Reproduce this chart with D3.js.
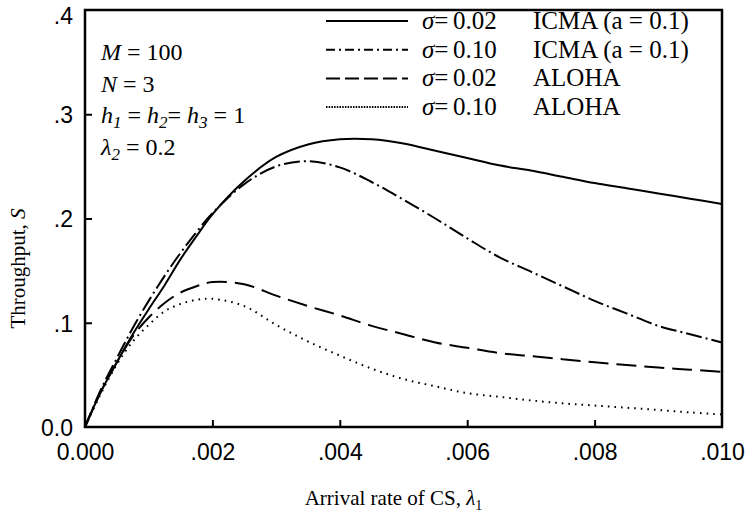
<!DOCTYPE html>
<html>
<head>
<meta charset="utf-8">
<script src="https://cdn.jsdelivr.net/npm/d3@7"></script>
<style>
  body { margin: 0; background: #fff; }
  .tick text { font-family: "Liberation Sans", Arial, sans-serif; font-size: 23px; fill: #000; }
  .serif { font-family: "Liberation Serif", "Times New Roman", serif; fill: #000; }
  .curve { fill: none; stroke: #000; stroke-width: 2; }
</style>
</head>
<body>
<div id="chart"></div>
<script>
// arrival rate of CS (lambda_1)
var lambda1 = [0, 0.00025, 0.0005, 0.00075, 0.001, 0.00125, 0.0015, 0.00175, 0.002, 0.0025,
               0.003, 0.0035, 0.004, 0.0045, 0.005, 0.0055, 0.006, 0.0065, 0.007, 0.0075,
               0.008, 0.0085, 0.009, 0.0095, 0.01];

// throughput S
var icma002 = [0, 0.034, 0.062, 0.089, 0.113, 0.136, 0.161, 0.183, 0.204, 0.236,
               0.259, 0.271, 0.276, 0.276, 0.272, 0.265, 0.258, 0.251, 0.246, 0.240,
               0.234, 0.229, 0.224, 0.219, 0.214];
var icma010 = [0, 0.036, 0.066, 0.095, 0.121, 0.145, 0.167, 0.187, 0.205, 0.233,
               0.250, 0.255, 0.249, 0.235, 0.218, 0.200, 0.181, 0.163, 0.149, 0.135,
               0.121, 0.109, 0.097, 0.089, 0.081];
var aloha002 = [0, 0.034, 0.062, 0.087, 0.105, 0.119, 0.129, 0.135, 0.139, 0.137,
                0.126, 0.116, 0.107, 0.097, 0.089, 0.081, 0.076, 0.071, 0.068, 0.065,
                0.062, 0.0595, 0.057, 0.055, 0.053];
var aloha010 = [0, 0.032, 0.060, 0.082, 0.098, 0.111, 0.118, 0.122, 0.123, 0.116,
                0.098, 0.082, 0.0685, 0.056, 0.046, 0.039, 0.0325, 0.029, 0.0255, 0.0227,
                0.0206, 0.0185, 0.0163, 0.014, 0.012];

var xTicks = [0, 0.002, 0.004, 0.006, 0.008, 0.01];
var xTickLabels = ["0.000", ".002", ".004", ".006", ".008", ".010"];
var yTicks = [0, 0.1, 0.2, 0.3, 0.4];
var yTickLabels = ["0.0", ".1", ".2", ".3", ".4"];

var sigmaLabels = ["0.02", "0.10", "0.02", "0.10"];
var schemeLabels = ["ICMA (a = 0.1)", "ICMA (a = 0.1)", "ALOHA", "ALOHA"];

var series = [
  { values: icma002, dash: null, legendDash: null },
  { values: icma010, dash: "16,4,2,4", legendDash: "9,4,2,4" },
  { values: aloha002, dash: "20,8", legendDash: "14,5" },
  { values: aloha010, dash: "1.6,5", legendDash: "1.5,1.2" }
];

var margin = {top: 10, right: 31, bottom: 90, left: 85},
    width = 753 - margin.left - margin.right,
    height = 517 - margin.top - margin.bottom;

var x = d3.scaleLinear().domain([0, 0.01]).range([0, width]);
var y = d3.scaleLinear().domain([0, 0.4]).range([height, 0]);

var svgRoot = d3.select("#chart").append("svg")
    .attr("width", 753)
    .attr("height", 517);

var svg = svgRoot.append("g")
    .attr("transform", "translate(" + margin.left + "," + margin.top + ")");

// x axis (ticks pointing inward)
var xAxis = svg.append("g")
    .attr("transform", "translate(0," + height + ")")
    .call(d3.axisBottom(x)
        .tickValues(xTicks)
        .tickSizeInner(-7)
        .tickSizeOuter(0)
        .tickPadding(17)
        .tickFormat(function(d, i) { return xTickLabels[i]; }));
xAxis.select(".domain").remove();
xAxis.selectAll(".tick line").attr("stroke", "#000").attr("stroke-width", 2)
    .filter(function(d) { return d === 0 || d === 0.01; }).remove();

// y axis
var yAxis = svg.append("g")
    .call(d3.axisLeft(y)
        .tickValues(yTicks)
        .tickSizeInner(-7)
        .tickSizeOuter(0)
        .tickPadding(12)
        .tickFormat(function(d, i) { return yTickLabels[i]; }));
yAxis.select(".domain").remove();
yAxis.selectAll(".tick text").attr("dy", function(d) { return d === 0.4 ? "0.6em" : "0.36em"; });
yAxis.selectAll(".tick line").attr("stroke", "#000").attr("stroke-width", 2)
    .filter(function(d) { return d === 0 || d === 0.4; }).remove();

// frame
svg.append("rect")
    .attr("x", 0).attr("y", 0)
    .attr("width", width).attr("height", height)
    .attr("fill", "none")
    .attr("stroke", "#000")
    .attr("stroke-width", 2.5);

var line = d3.line()
    .x(function(d, i) { return x(lambda1[i]); })
    .y(function(d) { return y(d); })
    .curve(d3.curveCatmullRom.alpha(0.5));

series.forEach(function(s) {
  svg.append("path")
      .datum(s.values)
      .attr("class", "curve")
      .attr("stroke-dasharray", s.dash)
      .attr("d", line);
});

// legend
var legend = svg.append("g").attr("transform", "translate(241,11)");
series.forEach(function(s, i) {
  var row = legend.append("g").attr("transform", "translate(0," + (i * 28.7) + ")");
  row.append("line")
      .attr("x1", 0).attr("x2", 82)
      .attr("y1", 0).attr("y2", 0)
      .attr("stroke", "#000")
      .attr("stroke-width", 2)
      .attr("stroke-dasharray", s.legendDash);
  var t = row.append("text").attr("class", "serif")
      .attr("y", 8).style("font-size", "25px");
  t.append("tspan").attr("x", 96).style("font-style", "italic").text("σ");
  t.append("tspan").text("=");
  t.append("tspan").attr("x", 127).text(sigmaLabels[i]);
  t.append("tspan").attr("x", 207).text(schemeLabels[i]);
});

// parameter annotation
var notes = svg.append("g").attr("class", "serif").style("font-size", "24px");
var n1 = notes.append("text").attr("x", 16).attr("y", 50);
n1.append("tspan").style("font-style", "italic").text("M");
n1.append("tspan").text(" = 100");

var n2 = notes.append("text").attr("x", 16).attr("y", 82);
n2.append("tspan").style("font-style", "italic").text("N");
n2.append("tspan").text(" = 3");

var n3 = notes.append("text").attr("x", 16).attr("y", 113);
[["h", "1", " = "], ["h", "2", "= "], ["h", "3", " = 1"]].forEach(function(p) {
  n3.append("tspan").style("font-style", "italic").text(p[0]);
  n3.append("tspan").style("font-style", "italic").style("font-size", "17px")
      .attr("dy", 5).text(p[1]);
  n3.append("tspan").attr("dy", -5).text(p[2]);
});

var n4 = notes.append("text").attr("x", 16).attr("y", 145);
n4.append("tspan").style("font-style", "italic").text("λ");
n4.append("tspan").style("font-style", "italic").style("font-size", "17px")
    .attr("dy", 5).text("2");
n4.append("tspan").attr("dy", -5).text(" = 0.2");

// axis titles
svgRoot.append("text")
    .attr("class", "serif")
    .attr("transform", "translate(25," + (margin.top + height / 2 + 50) + ") rotate(-90)")
    .attr("text-anchor", "middle")
    .style("font-size", "21px")
    .call(function(t) {
      t.append("tspan").text("Throughput, ");
      t.append("tspan").style("font-style", "italic").text("S");
    });

var xt = svgRoot.append("text")
    .attr("class", "serif")
    .attr("x", margin.left + width / 2 - 10)
    .attr("y", 505)
    .attr("text-anchor", "middle")
    .style("font-size", "21px");
xt.append("tspan").text("Arrival rate of CS, ");
xt.append("tspan").style("font-style", "italic").text("λ");
xt.append("tspan").style("font-size", "14px").attr("dy", 5).text("1");
</script>
</body>
</html>
